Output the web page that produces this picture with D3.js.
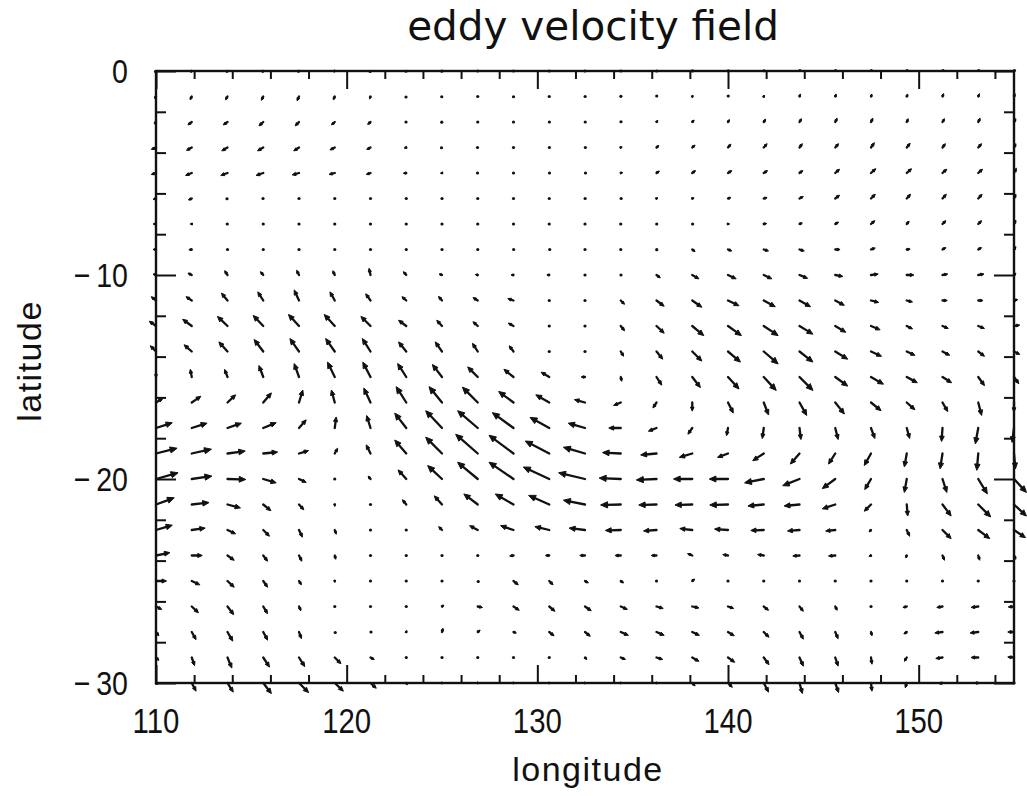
<!DOCTYPE html>
<html><head><meta charset="utf-8">
<script src="https://cdn.jsdelivr.net/npm/d3@7"></script>
<style>body{margin:0;background:#fff}</style>
</head><body>
<svg id="chart" width="1027" height="796"></svg>
<script>
// grid (longitude, latitude)
const lons = [110,111.875,113.75,115.625,117.5,119.375,121.25,123.125,125,126.875,128.75,130.625,132.5,134.375,136.25,138.125,140,141.875,143.75,145.625,147.5,149.375,151.25,153.125,155];
const lats = [0,-1.25,-2.5,-3.75,-5,-6.25,-7.5,-8.75,-10,-11.25,-12.5,-13.75,-15,-16.25,-17.5,-18.75,-20,-21.25,-22.5,-23.75,-25,-26.25,-27.5,-28.75,-30];

// eastward component, one row per latitude
const uRows = [
[-1,-1,-1.2,-1.2,-1.2,-1,-0.8,-0.5,-0.3,0,0,0,0,0.2,0.3,0.5,0.5,0.6,0.8,0.8,0.8,0.8,1,1,1],
[-1.5,-1.7,-2,-2,-2,-1.5,-1,-0.5,-0.5,0,0,0,0.3,0.3,0.5,0.8,0.5,0.5,1,1,1,1,1.2,1.2,1],
[-2,-4,-4.5,-4.5,-4,-3.5,-3,-0.5,-0.5,0,0,0.3,0.5,0.5,1.5,2,1.5,2,2,2,2,1.5,2,2,2],
[-5,-5.5,-6,-6,-5.5,-5,-4,-2,-1,-0.5,0,0.3,0.8,1.5,2.5,3,3,3.5,3,3.5,3.5,3.5,3,3.5,2],
[-5,-6.5,-7,-7.5,-7,-6,-4.5,-3,-1.5,-0.5,0,0.5,1,2,3,3.5,4,4,3.5,4.5,5,5,4.5,4.5,2.5],
[-3,-3.5,-1,-0.5,0,0,0,0,0,0,0,0,0.3,0.8,1.5,2,3,3.5,4,4.5,4.5,4,4,4,2],
[-3,-1.5,-0.5,0,0,0,0,0,0,0,0,0,0,0,0.5,0.8,1.5,3,3,3.5,4,2.5,3.5,3.5,2],
[-3,-3,0,0,0,0,0,0,0,0,0.3,1,0,0,0.5,3,4,5,5,5,4.5,3.5,3.5,3.5,2],
[-3,-4,-3,-3,-2.5,-2,-1.5,-3,-3,-2.5,-2.5,-2.5,0,0.5,4,7,8.5,8.5,8.5,8,7.5,7.5,5.5,6,2],
[-5,-6,-6.3,-5.7,-5,-5,-5,-4.5,-3.7,-5,-6,0,0,4,8,10,11.5,12,11.5,9.5,8,6,5,5,4],
[-7,-9.5,-10.5,-10.5,-11,-11,-10,-8,-5.5,-5,-5.5,0,0,4,8,12,14,15,14,11,9.5,6,6,6.5,6],
[-6,-8,-9,-9.5,-9.5,-9.5,-8.5,-8,-7,-5.5,-4.5,0,0,3,6.5,10,13,15,14,13,11,8.5,7.5,6.5,6],
[0,-1.5,-3,-4.5,-5,-7.5,-8,-9,-10,-10.5,-10,-8.5,-4,1,5.5,8.5,11.5,13,14,13,13,11,9.5,6.5,5],
[7,9.5,8.5,8.5,4,-3.5,-7,-10.5,-13.5,-16,-15.5,-14,-11,-7.5,-3.7,0,5.5,5,7.5,9.5,10.5,8.5,5.5,3.5,0],
[17,16,14.5,13.5,7.5,1.5,-4,-12,-17,-21,-22,-20,-17.5,-12.5,-8.5,-4.5,-1.5,-1.5,1.5,3,4,3,-1,-3,-2],
[22,20.5,18.5,15,10,3,-4.5,-12,-17,-23,-25.5,-25,-22.5,-19,-16.5,-13.5,-11,-11.5,-9.5,-7,-7,-2.5,-2.5,-1.5,1.5],
[23,21,19,13.5,7.5,0,-2.5,-8.5,-15,-21,-25.5,-27,-27.5,-22.5,-21,-19.5,-19.5,-20,-17.5,-13.5,-6.5,-2.5,4.5,9.5,13],
[19,18,13.5,8,5,0,0,-4,-8,-14.5,-19,-21.5,-22.5,-21,-18.5,-18,-19,-16.5,-16,-13.5,-7,1,9,13,13],
[17,14,8.5,6.5,3.5,1.5,0,0,-3.5,-8.5,-13.5,-15,-16.5,-16,-13.5,-13,-14,-13.5,-12.5,-10,-2,3,9,12,12],
[14.5,11,7,4.5,3,1,0,0,0,0,-4,-4,-5.5,-6,-5.5,-5,-5.5,-6.5,-7,-7,-2,-1,2,1.5,2],
[11,8.5,7,4.5,2.5,0,0,0,0,1,5,4,3.5,3,0,2.5,0,0,0,0,0,0,0,0,0],
[6,7,6.5,4.5,2,0,0,0,2,5,6,6,6.5,7,7,7,6,5,4,2,0,-4,-6,-7.5,-6],
[3,4.5,5.5,4.5,2.5,1,1,0.5,1,2.5,3,5,5.5,8,8,7.5,6.5,5.5,4,3,1,-3,-8,-8.5,-6.5],
[3,3,4.5,6.5,6,6.5,4,0,0,0,0,0,2,5,6.5,7,7,5.5,4,3,1,-2.5,-7,-7.5,-6.5],
[1,4.5,6,8.5,10,9,6,1,1.5,1.5,1.5,1.5,1.5,1.5,1.5,3,4.5,5,3,3.5,1,-1.5,-4,-4,0]
];

// northward component, one row per latitude
const vRows = [
[-1,-1.5,-1.5,-1.5,-1.5,-1.2,-1,-0.5,-0.3,0,0,0,0,0,0,0.2,0.3,0.5,1,1,1,1,1,1,1],
[-2,-3.5,-3.5,-4,-4.5,-3.5,-2.5,-1,-0.5,0,-0.5,0,0,0.3,1,1.5,1,1.5,2.5,2.5,2.5,2.5,3,3,3],
[-2,-3,-3,-4,-4,-3,-2.5,0,-0.3,0,0,0,0,0.5,1.5,2,2.5,3,3.5,4,4,3.5,3.5,4,3.5],
[-2,-3,-3.5,-3.5,-3.5,-2.5,-2,-0.5,-0.5,0,0,0,0,0.5,2,2.5,3.5,4,4,4,5,4.5,4,4,4],
[-1.5,-2.5,-2.5,-2.5,-2,-1.5,-1.5,-0.3,-0.3,0,0,0,0,0.5,2,2.5,2.5,2.5,2.5,4,4.5,4.5,4,4,5],
[-1,-1.5,-0.5,0,0,0,0,0,0,0,0,0,0,0,0.5,0.5,1,1,2,3.5,4.5,4.5,4.5,4.5,4.5],
[0,0,0,0,0,0,0,0,0,0,0,0,0,0,0,0,0,0.5,1,2,3.5,3,3.5,3.5,4],
[0,-0.3,0,0,0,0,0,0,0,0,0,0,0,0,-0.3,-2,-1.5,-1.5,-1.5,0,1.5,0.5,2,2,3],
[1,2,4.5,3.5,5,4.5,7,3.5,1,0.5,0,0,0,0,-3,-4,-4,-4,-3.5,-1.5,1,0,1,1,2],
[4,4,7.7,9,11,9,7,4,4.3,3,2,0,0,-4,-6,-7,-5.5,-6.5,-6.5,-5,-2,-1.5,0,0,1],
[5,7,10,11,12,12,10,6,6,4.5,3,0,0,-5,-7.5,-10,-10,-10,-8.5,-6.5,-4,-3,-2.5,-2.5,1],
[6,7,10,12.5,13.5,13.5,13.5,10,10,8.5,6,0,0,-5,-8,-10,-11,-13,-11,-8,-5,-4,-4,-5,-3],
[5,8,8,12,14,15.5,15.5,14,13,10.5,8,5,0,-4.5,-8.5,-11,-12.5,-14,-14,-9.5,-7.5,-6,-6,-9,-7],
[4,6.5,8,10,13,13,15,16.5,16.5,16,11.5,8,3,-3,-5.7,-9,-11,-13,-13.5,-12,-8.5,-7.5,-9.5,-13.5,-10],
[5.5,5,5,5.5,8.5,11.5,13,15.5,18,18,16,11,5,0,-3.3,-6.5,-8,-11,-12,-12,-11,-11,-14,-16.5,-15],
[5.5,4.5,2.5,1.5,3,5.5,9,14,17,20,19,13,6.5,1,-1.5,-4,-4,-7.5,-11,-11,-12.5,-14,-16,-17.5,-16],
[6.5,3,-0.5,-4,-3.5,0,3,9.5,14,17.5,17.5,12.5,6.5,1,-1,0,0,-4,-7,-10,-11,-14,-14,-15.5,-14],
[7,2,-3.5,-6.5,-5.5,-2,0,5,9,11,11,9.5,4.5,-0.5,-0.5,-0.5,-0.5,-1.5,-1.5,-4.5,-7,-12,-12,-13,-12],
[5,2,-4,-6.5,-7.5,-4.5,0,0,3.5,4.5,4.5,3.5,2,-0.5,-1,1.5,1,-0.5,-1,-1,-2,-6.5,-9,-9,-8],
[3,0,-5,-6,-6,-4,0,0,0,0,-0.5,0,0,0,0,2,1,1,-0.5,-0.5,-1,-2.5,-5,-5,-4],
[0,-4,-6.5,-6.5,-4,-1.5,0,0,0,-1,-4,-4,-2,-2,0,2,0,0,0,0,0,0,0,0,0],
[-3,-6.5,-8.5,-7.5,-4.5,0,0,0,1.5,-1,-4,-5,-4.5,-3,-2,-1.5,-2,-4,-5,-4,0,-1,-1,-1,-0.5],
[-4,-8,-9.5,-8.5,-7,-1,0,1.5,4,2,-1,-4,-4.5,-3.5,-3.5,-3.5,-4,-5.5,-7.5,-7,-4,-2,-1,-1,0],
[-3,-8.5,-11,-10,-9.5,-6.5,-2,0,0,0,0,0,-2,-2,-2,-4,-5,-7.5,-9,-9,-7,-4,-1,0,0.5],
[-1,-8.5,-9.5,-11,-10,-8.5,-5.5,-2,-0.5,-0.5,-0.5,-0.5,-0.5,0,-0.5,-3,-4.5,-9.5,-11,-10,-8.5,-5,-0.5,0,0]
];

const xMajorTicks = [110,120,130,140,150];
const xMinorTicks = [112,114,116,118,122,124,126,128,132,134,136,138,142,144,146,148,152,154];
const yMajorTicks = [0,-10,-20,-30];
const yMinorTicks = [-2,-4,-6,-8,-12,-14,-16,-18,-22,-24,-26,-28];
const xLabels = ["110","120","130","140","150"];
const yLabels = ["0","\u221210","\u221220","\u221230"];

const svg = d3.select("#chart");
const L = 156, R = 1014, T = 71, B = 683;
const x = d3.scaleLinear().domain([110,155]).range([L,R]);
const y = d3.scaleLinear().domain([0,-30]).range([T,B]);
const speed = d3.scaleLinear().domain([0,10]).range([0,9.6]);
const ink = "#111";

// title & axis titles
svg.append("text").attr("x",593).attr("y",40).attr("text-anchor","middle")
  .attr("font-family","DejaVu Sans").attr("font-size",40.5).attr("fill",ink).text("eddy velocity field");
svg.append("text").attr("x",588).attr("y",781).attr("text-anchor","middle")
  .attr("font-family","Liberation Sans").attr("font-size",34).attr("letter-spacing",1.5).attr("fill",ink).text("longitude");
svg.append("text").attr("transform","translate(41,361) rotate(-90)").attr("text-anchor","middle")
  .attr("font-family","Liberation Sans").attr("font-size",34).attr("letter-spacing",1.5).attr("fill",ink).text("latitude");

// axes with inward ticks
const axG = svg.append("g").attr("class","axes");
function styleAxis(g){ g.select(".domain").remove(); g.selectAll("line").attr("stroke",ink).attr("stroke-width",2); }
axG.append("g").attr("transform",`translate(0,${B})`).call(d3.axisBottom(x).tickValues(xMinorTicks).tickSize(-8).tickFormat("")).call(styleAxis);
axG.append("g").attr("transform",`translate(0,${B})`).call(d3.axisBottom(x).tickValues(xMajorTicks).tickSize(-18).tickFormat("")).call(styleAxis);
axG.append("g").attr("transform",`translate(0,${T})`).call(d3.axisTop(x).tickValues(xMinorTicks).tickSize(-8).tickFormat("")).call(styleAxis);
axG.append("g").attr("transform",`translate(0,${T})`).call(d3.axisTop(x).tickValues(xMajorTicks).tickSize(-18).tickFormat("")).call(styleAxis);
axG.append("g").attr("transform",`translate(${L},0)`).call(d3.axisLeft(y).tickValues(yMinorTicks).tickSize(-10).tickFormat("")).call(styleAxis);
axG.append("g").attr("transform",`translate(${L},0)`).call(d3.axisLeft(y).tickValues(yMajorTicks).tickSize(-20).tickFormat("")).call(styleAxis);
axG.append("g").attr("transform",`translate(${R},0)`).call(d3.axisRight(y).tickValues(yMinorTicks).tickSize(-10).tickFormat("")).call(styleAxis);
axG.append("g").attr("transform",`translate(${R},0)`).call(d3.axisRight(y).tickValues(yMajorTicks).tickSize(-20).tickFormat("")).call(styleAxis);
svg.append("rect").attr("x",L).attr("y",T).attr("width",R-L).attr("height",B-T)
  .attr("fill","none").attr("stroke",ink).attr("stroke-width",2.4);

// tick labels
xMajorTicks.forEach((v,i)=>{
  svg.append("text").attr("transform",`translate(${x(v)},733) scale(0.84,1)`).attr("text-anchor","middle")
    .attr("font-family","Liberation Sans").attr("font-size",35).attr("fill",ink).text(xLabels[i]);
});
yMajorTicks.forEach((v,i)=>{
  const t = svg.append("text").attr("transform",`translate(128,${y(v)+12}) scale(0.84,1)`).attr("text-anchor","end")
    .attr("font-family","Liberation Sans").attr("font-size",34).attr("fill",ink);
  const lab = yLabels[i];
  if (lab.startsWith("\u2212")) {
    t.append("tspan").text("\u2212");
    t.append("tspan").attr("dx",7).text(lab.slice(1));
  } else t.text(lab);
});

// vectors (tail at grid point)
const vg = svg.append("g").attr("class","vectors");
lats.forEach((lat,j)=>{
  lons.forEach((lon,i)=>{
    const x0 = x(lon), y0 = y(lat);
    const dx = speed(uRows[j][i]), dy = -speed(vRows[j][i]);
    const len = Math.hypot(dx,dy);
    if (len < 1.4) {
      vg.append("circle").attr("cx",x0+dx/2).attr("cy",y0+dy/2).attr("r",1.6).attr("fill",ink);
      return;
    }
    const ux = dx/len, uy = dy/len;
    const hl = Math.min(7, 1.8 + len*0.26), hw = hl*0.44;
    const tx = x0+dx, ty = y0+dy;
    const bx = tx - ux*hl, by = ty - uy*hl;
    vg.append("line").attr("x1",x0).attr("y1",y0).attr("x2",bx+ux*1).attr("y2",by+uy*1)
      .attr("stroke",ink).attr("stroke-width",2.3).attr("stroke-linecap","round");
    vg.append("path").attr("d",`M${tx},${ty}L${bx - uy*hw},${by + ux*hw}L${bx + uy*hw},${by - ux*hw}Z`)
      .attr("fill",ink).attr("stroke",ink).attr("stroke-width",1).attr("stroke-linejoin","round");
  });
});
</script>
</body></html>
